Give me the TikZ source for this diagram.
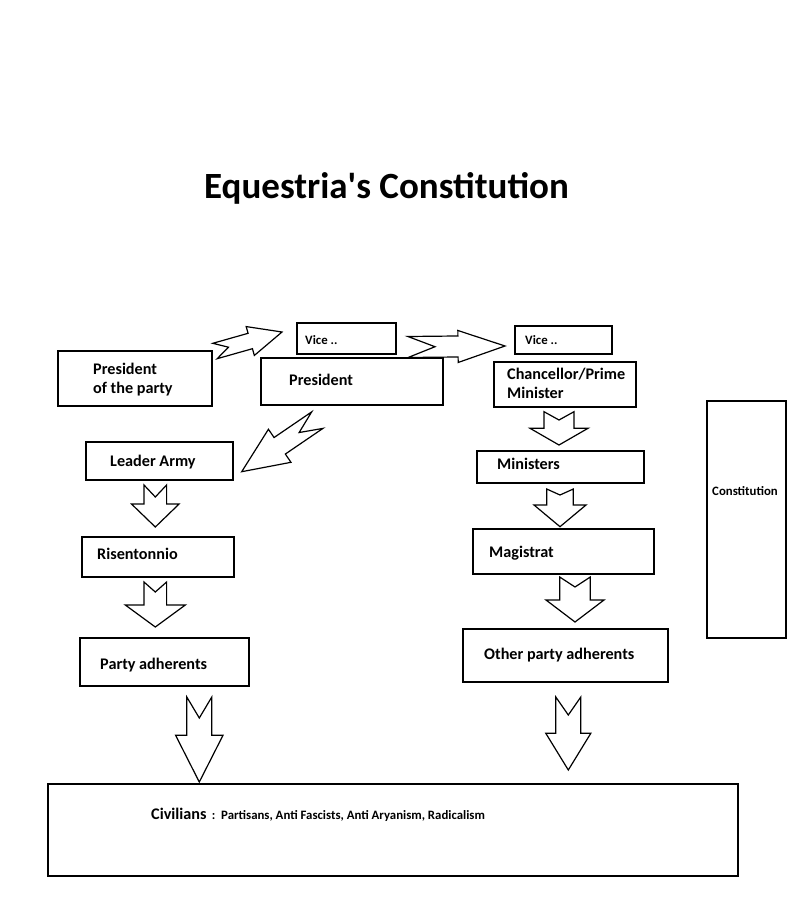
\documentclass[tikz,border=0pt]{standalone}
\usepackage{fontspec}
\setmainfont[Ligatures=TeXOff]{Carlito}
\usetikzlibrary{calc}
\tikzset{
  box/.style={draw, line width=1.7pt, inner sep=0pt},
  lbl/.style={font=\bfseries\fontsize{16.2}{19}\selectfont, anchor=west, inner sep=0pt, align=left},
  smalllbl/.style={font=\bfseries\fontsize{12.8}{14}\selectfont, anchor=west, inner sep=0pt},
  titlelbl/.style={font=\bfseries\fontsize{37}{42}\selectfont, inner sep=0pt},
  blockarr/.style={draw, line width=1.2pt, line join=miter},
}
\newcommand\blockarrow[6]{%
  \path let \p1=(#1), \p2=(#2) in \pgfextra{%
    \pgfmathsetmacro\baang{atan2((\y2)-(\y1),(\x2)-(\x1))}%
    \pgfmathsetmacro\balen{veclen((\x2)-(\x1),(\y2)-(\y1))}%
    \xdef\baang{\baang}\xdef\balen{\balen}%
    \xdef\bax{\x2}\xdef\bay{\y2}};
  \pgfmathsetmacro\banotch{#6-\balen}%
  \draw[blockarr, shift={(\bax,\bay)}, rotate=\baang]
    (0pt,0pt) -- (-#5pt,#4pt) -- (-#5pt,#3pt) -- (-\balen pt,#3pt) -- (\banotch pt,0pt)
    -- (-\balen pt,-#3pt) -- (-#5pt,-#3pt) -- (-#5pt,-#4pt) -- cycle;
}
\begin{document}
\begin{tikzpicture}[x=1pt,y=-1pt]
\useasboundingbox[fill=white] (0,0) rectangle (800,920);
\node[titlelbl] (title) at (386.5,188) {Equestria's Constitution};

% boxes
\node[box, minimum width=154pt, minimum height=55pt] (party) at (135,378.5) {};
\node[box, minimum width=99pt, minimum height=31pt] (vice1) at (346.5,338.5) {};
\node[box, minimum width=182pt, minimum height=47pt] (pres) at (352,381.5) {};
\node[box, minimum width=97pt, minimum height=28pt] (vice2) at (563.5,340) {};
\node[box, minimum width=142pt, minimum height=45pt] (chanc) at (565,384.5) {};
\node[box, minimum width=147pt, minimum height=38pt] (army) at (159.5,461) {};
\node[box, minimum width=152pt, minimum height=40pt] (risen) at (158,557) {};
\node[box, minimum width=169pt, minimum height=48pt] (adh) at (164.5,662) {};
\node[box, minimum width=167pt, minimum height=32pt] (mins) at (560.5,467) {};
\node[box, minimum width=181pt, minimum height=45pt] (mag) at (563.5,551.5) {};
\node[box, minimum width=205pt, minimum height=53pt] (oadh) at (565.5,655.5) {};
\node[box, minimum width=79pt, minimum height=237pt] (const) at (746.5,519.5) {};
\node[box, minimum width=690pt, minimum height=92pt] (civ) at (393,830) {};

% labels
\node[lbl] (partyT) at (93,379.5) {President\\of the party};
\node[smalllbl] (vice1T) at (305,340.5) {Vice ..};
\node[lbl] (presT) at (289,380) {President};
\node[smalllbl] (vice2T) at (525,340) {Vice ..};
\node[lbl] (chancT) at (507,383.5) {Chancellor/Prime\\Minister};
\node[lbl] (armyT) at (110,462) {Leader Army};
\node[lbl] (risenT) at (97,554) {Risentonnio};
\node[lbl] (adhT) at (100,665) {Party adherents};
\node[lbl] (minsT) at (497,464) {Ministers};
\node[lbl] (magT) at (489,553) {Magistrat};
\node[lbl] (oadhT) at (484,655) {Other party adherents};
\node[smalllbl, anchor=center] (constT) at (745,491) {Constitution};
\node[lbl] (civT) at (151,814) {Civilians};
\node[smalllbl, anchor=base west] (civL) at ([xshift=5pt]civT.base east) {:\ \ Partisans, Anti Fascists, Anti Aryanism, Radicalism};

% block arrows
\coordinate (a1s) at (215,351); \coordinate (a1e) at (282,332);
\coordinate (a2s) at (408,347); \coordinate (a2e) at (505,346);
\coordinate (a3s) at (317.5,420); \coordinate (a3e) at (241.7,471.7);
\coordinate (b1s) at (155.3,485); \coordinate (b1e) at (155.3,527);
\coordinate (b2s) at (155.3,582); \coordinate (b2e) at (155.3,627);
\coordinate (b3s) at (199.3,697); \coordinate (b3e) at (199.3,782);
\coordinate (b4s) at (568.3,697); \coordinate (b4e) at (568.3,770);
\coordinate (c1s) at (559,411.7); \coordinate (c1e) at (559,445);
\coordinate (c2s) at (560,489); \coordinate (c2e) at (560,526.7);
\coordinate (c3s) at (575,577); \coordinate (c3e) at (575,622);
\blockarrow{a1s}{a1e}{8}{15}{33}{14}
\blockarrow{a2s}{a2e}{10.5}{16}{47}{27}
\blockarrow{a3s}{a3e}{10}{20}{46}{22}
\blockarrow{b1s}{b1e}{11.3}{23.8}{23}{12}
\blockarrow{b2s}{b2e}{11.3}{30}{22}{10}
\blockarrow{b3s}{b3e}{12.5}{23.7}{46.7}{21}
\blockarrow{b4s}{b4e}{12.5}{22.5}{36.7}{18}
\blockarrow{c1s}{c1e}{15}{29}{16.7}{8.3}
\blockarrow{c2s}{c2e}{13.3}{26}{21.7}{6}
\blockarrow{c3s}{c3e}{15.3}{29}{22}{10}
\end{tikzpicture}
\end{document}
